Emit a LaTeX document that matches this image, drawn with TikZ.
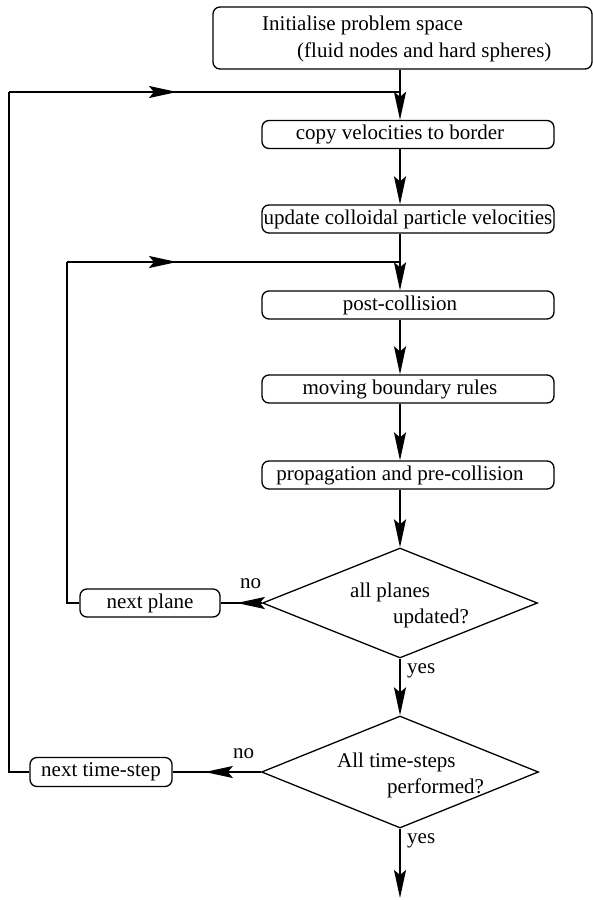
\documentclass[tikz,border=0pt]{standalone}
\usepackage{fontspec}
\setmainfont{Liberation Serif}
\usetikzlibrary{arrows.meta,shapes.geometric,decorations.markings}
\begin{document}
\begin{tikzpicture}[x=1pt,y=-1pt,
  txt/.style={font=\fontsize{21}{24}\selectfont},
  box/.style={draw, line width=1.3pt, rounded corners=7pt, minimum width=292pt, minimum height=28pt, inner sep=0pt, txt},
  shifted/.style={execute at begin node={\hspace*{-16pt}}},
  dec/.style={draw, diamond, line width=1.3pt, inner sep=0pt},
  lbl/.style={inner sep=0pt, anchor=base west, txt},
  conn/.style={line width=1.8pt, line join=miter},
  tip/.tip={Stealth[length=28pt,width=12pt,inset=5pt]},
  arr/.style={conn, -tip},
  midarr/.style={conn, postaction={decorate}, decoration={markings, mark=at position #1 with {\arrow{tip}}}}
  ]
\useasboundingbox (0,0) rectangle (593,900);

% nodes
\node[box, minimum width=379pt, minimum height=62pt] (init) at (402.5,38) {};
\node[lbl] (initA) at (262,30) {Initialise problem space};
\node[lbl] (initB) at (297,57) {(fluid nodes and hard spheres)};

\node[box, shifted] (copy) at (408,134.5) {copy velocities to border};
\node[box] (update) at (408,219) {update colloidal particle velocities};
\node[box, shifted] (post) at (408,305) {post-collision};
\node[box, shifted] (moving) at (408,389) {moving boundary rules};
\node[box, shifted] (prop) at (408,475) {propagation and pre-collision};

\node[dec, minimum width=275pt, minimum height=110pt] (d1) at (400,603) {};
\node[lbl] (d1a) at (350,597) {all planes};
\node[lbl] (d1b) at (393,623) {updated?};

\node[dec, minimum width=277pt, minimum height=112pt] (d2) at (400,772) {};
\node[lbl] (d2a) at (337,767) {All time-steps};
\node[lbl] (d2b) at (387,793) {performed?};

\node[box, minimum width=140pt] (np) at (150,603) {next plane};
\node[box, minimum width=142pt, minimum height=29pt] (nts) at (101,772) {next time-step};

\node[lbl] (no1) at (240,588) {no};
\node[lbl] (no2) at (233,758) {no};
\node[lbl] (yes1) at (407,673) {yes};
\node[lbl] (yes2) at (407,843) {yes};

\coordinate (otop) at (9,92);
\coordinate (ojoin) at (400,92);
\coordinate (itop) at (67,262);
\coordinate (ijoin) at (400,262);
\coordinate (fin) at (400,898);

% main spine
\draw[arr] (init.south -| d1) -- (copy.north -| d1);
\draw[arr] (copy.south -| d1) -- (update.north -| d1);
\draw[arr] (update.south -| d1) -- (post.north -| d1);
\draw[arr] (post.south -| d1) -- (moving.north -| d1);
\draw[arr] (moving.south -| d1) -- (prop.north -| d1);
\draw[arr] (prop.south -| d1) -- (d1.north);
\draw[arr] (d1.south) -- (d2.north);
\draw[arr] (d2.south) -- (fin);

% "no" branches
\draw[midarr=25pt] (d1.west) -- (np.east);
\draw[midarr=56pt] (d2.west) -- (nts.east);

% loops
\draw[conn] (np.west) -| (itop);
\draw[midarr=110pt] (itop) -- (ijoin);
\draw[conn] (nts.west) -| (otop);
\draw[midarr=168pt] (otop) -- (ojoin);
\end{tikzpicture}
\end{document}
